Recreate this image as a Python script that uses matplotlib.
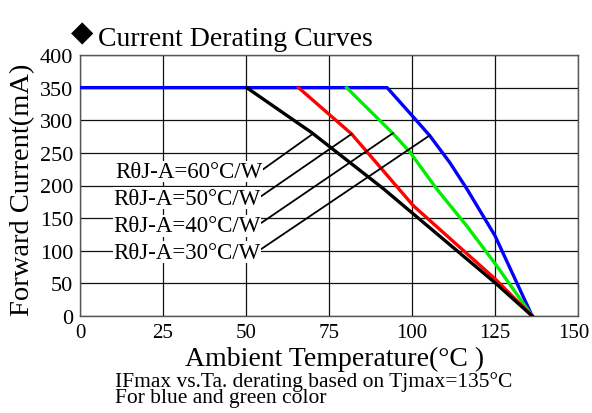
import matplotlib
matplotlib.use("Agg")
import matplotlib.pyplot as plt
from matplotlib.transforms import ScaledTranslation

# Data
blue_x = [0, 92.5, 100.4, 105.4, 111.4, 116.5, 125.0, 136.2]
blue_y = [350, 350, 305, 276, 235, 195, 123, 0]
green_x = [80.3, 94.4, 99.4, 107.4, 116.5, 125.5, 136.2]
green_y = [350, 279, 251, 195, 138, 77, 0]
red_x = [65.8, 81.8, 100.4, 125.0, 136.2]
red_y = [350, 279, 169, 57, 0]
black_x = [50.2, 69.8, 91.4, 125.0, 136.2]
black_y = [350, 281, 195, 51, 0]

labels = ["RθJ-A=60°C/W", "RθJ-A=50°C/W", "RθJ-A=40°C/W", "RθJ-A=30°C/W"]
label_baseline = [213, 172, 130, 89]
label_start = [(55.2, 225), (54.7, 184), (54.7, 143), (54.7, 103)]
label_target = [(69.8, 278), (81.8, 279), (94.2, 280), (105.4, 277)]

x_ticks = [0, 25, 50, 75, 100, 125, 150]
y_ticks = [0, 50, 100, 150, 200, 250, 300, 350, 400]

note_lines = ["IFmax vs.Ta. derating based on Tjmax=135°C", "For blue and green color"]

plt.rcParams['font.family'] = ['Liberation Serif', 'DejaVu Serif']

W, H = 592, 414
fig = plt.figure(figsize=(W/100, H/100), dpi=100)
ax = fig.add_axes([80/W, 1-317/H, 498/W, 261/H])

ax.set_xlim(0, 150)
ax.set_ylim(0, 400)
ax.set_xticks(x_ticks)
ax.set_yticks(y_ticks)
ax.tick_params(length=0)
ax.tick_params(axis='x', pad=5, labelsize=15)
ax.tick_params(axis='y', pad=5, labelsize=16)
ax.grid(True, color='#111111', linewidth=0.9)
ax.set_axisbelow(True)
for s in ax.spines.values():
    s.set_color('#555555')
    s.set_linewidth(1.0)

# nudge the last x tick label so it stays inside the canvas
last = ax.get_xticklabels()[-1]
last.set_transform(last.get_transform() + ScaledTranslation(-4/100, 0, fig.dpi_scale_trans))

lw = 2.4
ax.plot(blue_x, blue_y, color='#0000ff', lw=lw, zorder=3)
ax.plot(green_x, green_y, color='#00ee00', lw=lw, zorder=4)
ax.plot(red_x, red_y, color='#ff0000', lw=lw, zorder=5)
ax.plot(black_x, black_y, color='black', lw=lw, zorder=6)

for lab, yb, (sx, sy), (ex, ey) in zip(labels, label_baseline, label_start, label_target):
    ax.plot([sx, ex], [sy, ey], color='black', lw=1.3, zorder=7)
    ax.text(sx - 0.3, yb, lab, ha='right', va='baseline', fontsize=16.5,
            bbox=dict(facecolor='white', edgecolor='none', pad=0.3), zorder=8)

fig.text(335/W, 1-366/H, "Ambient Temperature(°C )", fontsize=20,
         va='baseline', ha='center')
fig.text(23/W, 1-190/H, "Forward Current(mA)", fontsize=20.5,
         va='center', ha='center', rotation=90)

fig.text(82/W, 1-33/H, "◆", fontsize=21, va='center', ha='center',
         family=['DejaVu Sans'])
fig.text(98/W, 1-46/H, "Current Derating Curves", fontsize=20,
         va='baseline', ha='left')
fig.text(115/W, 1-372/H, "\n".join(note_lines), fontsize=15.5,
         va='top', ha='left', linespacing=0.78)

fig.savefig("out.png", dpi=100)
